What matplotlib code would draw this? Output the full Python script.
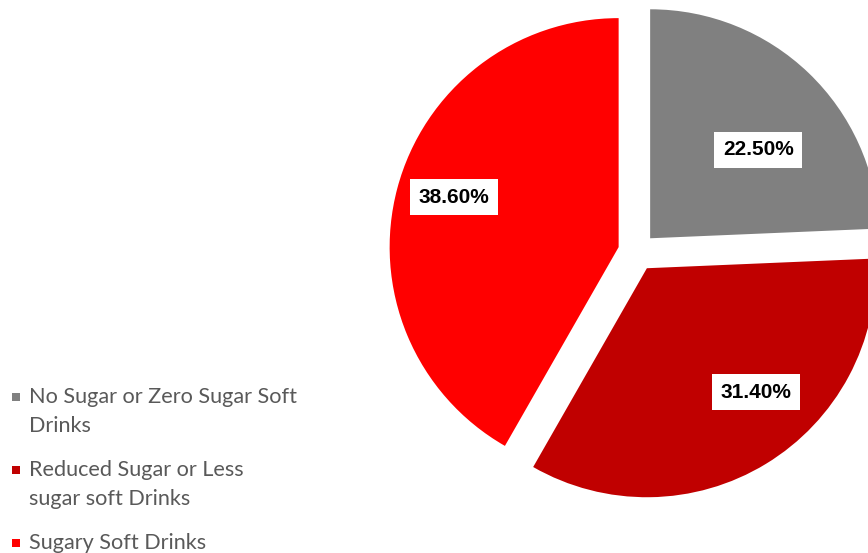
import matplotlib
matplotlib.use("Agg")
import matplotlib.pyplot as plt
from matplotlib.patches import Rectangle
import numpy as np

# share of respondents, as printed on the chart
categories = ["No Sugar or Zero Sugar Soft\nDrinks",
              "Reduced Sugar or Less\nsugar soft Drinks",
              "Sugary Soft Drinks"]
shares = [22.5, 31.4, 38.6]
pct_labels = ["22.50%", "31.40%", "38.60%"]
colours = ["#808080", "#C00000", "#FF0000"]

# label placement tweaks (fraction of radius, degrees off the wedge bisector)
label_dist = [0.61, 0.72, 0.75]
label_turn = [-7, 10, -2]

W, H = 868, 553
fig = plt.figure(figsize=(W / 100, H / 100), dpi=100)
ax = fig.add_axes([0, 0, 1, 1])

radius = 229
centre = (637, H - 252)
wedges, _ = ax.pie(shares, colors=colours, startangle=90, counterclock=False,
                   radius=radius, center=centre, explode=[19, 19, 19],
                   wedgeprops=dict(linewidth=0))

for w, lab, d, t in zip(wedges, pct_labels, label_dist, label_turn):
    mid = np.radians(0.5 * (w.theta1 + w.theta2) + t)
    cx, cy = w.center
    ax.text(cx + d * radius * np.cos(mid), cy + d * radius * np.sin(mid), lab,
            ha="center", va="center", fontsize=15, fontweight="bold",
            family="Liberation Sans", color="black",
            bbox=dict(boxstyle="square,pad=0.42", fc="white", ec="none"))

ax.set_xlim(0, W)
ax.set_ylim(0, H)
ax.set_aspect("equal")
ax.axis("off")

# legend drawn by hand so the square sits on the first line (Excel style)
line_step = 29
entry_gap = 15
base = H - 403
for cat, col in zip(categories, colours):
    lines = cat.split("\n")
    ax.add_patch(Rectangle((12, base + 2), 8, 8, color=col, lw=0))
    for i, ln in enumerate(lines):
        ax.text(29, base - i * line_step, ln, ha="left", va="baseline",
                family="Lato", fontsize=15.6, color="#595959")
    base -= len(lines) * line_step + entry_gap

fig.savefig("out.png", dpi=100)
